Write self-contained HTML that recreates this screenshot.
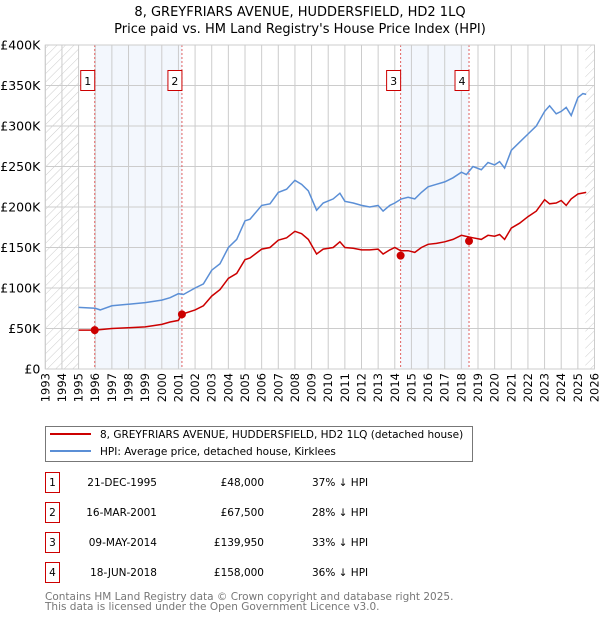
<!DOCTYPE html>
<html><head><meta charset="utf-8"><style>
body{margin:0;background:#fff;}
svg{display:block;font-family:"DejaVu Sans","Liberation Sans",sans-serif;}
</style></head><body>
<svg id="chart" width="600" height="620" viewBox="0 0 600 620" xmlns="http://www.w3.org/2000/svg">
<defs>
<pattern id="hatch" width="6" height="6" patternUnits="userSpaceOnUse" patternTransform="rotate(45)">
<line x1="0" y1="0" x2="0" y2="6" stroke="#ccc" stroke-width="1"/>
</pattern>
</defs>
<text x="300" y="16" text-anchor="middle" font-size="13">8, GREYFRIARS AVENUE, HUDDERSFIELD, HD2 1LQ</text>
<text x="300" y="33" text-anchor="middle" font-size="13">Price paid vs. HM Land Registry's House Price Index (HPI)</text>
<g id="plot"></g>
<g>
<rect x="45.5" y="426.5" width="427" height="35" fill="#fff" stroke="#777"/>
<line x1="50" y1="434" x2="91" y2="434" stroke="#cc0000" stroke-width="2"/>
<text x="100" y="438" font-size="10.5">8, GREYFRIARS AVENUE, HUDDERSFIELD, HD2 1LQ (detached house)</text>
<line x1="50" y1="451" x2="91" y2="451" stroke="#5b8fd6" stroke-width="2"/>
<text x="100" y="455" font-size="10.5">HPI: Average price, detached house, Kirklees</text>
</g>
<g id="table" font-size="10.5"></g>
<text x="45" y="600" font-size="10.5" fill="#777">Contains HM Land Registry data © Crown copyright and database right 2025.</text>
<text x="45" y="610" font-size="10.5" fill="#777">This data is licensed under the Open Government Licence v3.0.</text>
</svg>
<script>
const hpiYears=[1995,1996,1996.3,1997,1998,1999,2000,2000.5,2001,2001.3,2002,2002.5,2003,2003.5,2004,2004.5,2005,2005.3,2006,2006.5,2007,2007.5,2008,2008.4,2008.8,2009.3,2009.7,2010.3,2010.7,2011,2011.5,2012,2012.5,2013,2013.3,2013.7,2014,2014.4,2014.8,2015.2,2015.6,2016,2016.5,2017,2017.5,2018,2018.3,2018.7,2019.2,2019.6,2020,2020.3,2020.6,2021,2021.5,2022,2022.5,2023,2023.3,2023.7,2024,2024.3,2024.6,2025,2025.3,2025.5];
const hpiValues=[76,75,73,78,80,82,85,88,93,92,100,105,122,130,150,160,183,185,202,204,218,222,233,228,220,196,205,210,217,207,205,202,200,202,195,202,205,210,212,210,218,225,228,231,236,243,240,250,246,255,252,256,248,270,280,290,300,318,325,315,318,323,313,335,340,339];
const propYears=[1995,1996,1997,1998,1999,2000,2000.5,2001,2001.2,2002,2002.5,2003,2003.5,2004,2004.5,2005,2005.3,2006,2006.5,2007,2007.5,2008,2008.4,2008.8,2009.3,2009.7,2010.3,2010.7,2011,2011.5,2012,2012.5,2013,2013.3,2013.7,2014,2014.35,2014.8,2015.2,2015.6,2016,2016.5,2017,2017.5,2018,2018.46,2018.7,2019.2,2019.6,2020,2020.3,2020.6,2021,2021.5,2022,2022.5,2023,2023.3,2023.7,2024,2024.3,2024.6,2025,2025.5];
const propValues=[48,48,50,51,52,55,58,60,67.5,73,78,90,98,112,118,135,137,148,150,159,162,170,167,160,142,148,150,157,150,149,147,147,148,142,147,150,146,146,144,150,154,155,157,160,165,163,162,160,165,164,166,160,174,180,188,195,209,204,205,208,202,210,216,218];
const saleLabels=["1","2","3","4"];
const saleDates=[1995.97,2001.21,2014.35,2018.46];
const salePrices=[48,67.5,139.95,158];
const saleDateText=["21-DEC-1995","16-MAR-2001","09-MAY-2014","18-JUN-2018"];
const salePriceText=["£48,000","£67,500","£139,950","£158,000"];
const saleHpiText=["37% ↓ HPI","28% ↓ HPI","33% ↓ HPI","36% ↓ HPI"];
const yTicks=[0,50,100,150,200,250,300,350,400];
const yTickLabels=["£0","£50K","£100K","£150K","£200K","£250K","£300K","£350K","£400K"];
const xTicks=[1993,1994,1995,1996,1997,1998,1999,2000,2001,2002,2003,2004,2005,2006,2007,2008,2009,2010,2011,2012,2013,2014,2015,2016,2017,2018,2019,2020,2021,2022,2023,2024,2025,2026];

const L=45.3,R=594.5,T=45,B=369,X0=1993,X1=2026,YMAX=400;
const x=v=>L+(v-X0)/(X1-X0)*(R-L);
const y=v=>B-v/YMAX*(B-T);
const NS="http://www.w3.org/2000/svg";
function mk(tag,attrs,parent){const e=document.createElementNS(NS,tag);for(const k in attrs)e.setAttribute(k,attrs[k]);parent.appendChild(e);return e;}
const plot=document.getElementById('plot');

let e;
e=mk('rect',{x:L,y:T,width:R-L,height:B-T,fill:'#fff'},plot);


for(let i=0;i<4;i+=2){
 e=mk('rect',{x:x(saleDates[i]),y:T,width:x(saleDates[i+1])-x(saleDates[i]),height:B-T,fill:'#eef3fc',opacity:0.7},plot);
 
 
}
e=mk('rect',{x:L,y:T,width:x(1995)-L,height:B-T,fill:'url(#hatch)'},plot);


e=mk('rect',{x:x(2025.45),y:T,width:R-x(2025.45),height:B-T,fill:'url(#hatch)'},plot);


xTicks.forEach(t=>{
 e=mk('line',{x1:x(t),x2:x(t),y1:T,y2:B,stroke:'#ccc','stroke-width':1},plot);
 
 
 e=mk('text',{x:0,y:0,transform:`translate(${x(t)+4},${B+4}) rotate(-90)`,'text-anchor':'end','font-size':11.5},plot);
 e.textContent=t;
 
 
});
yTicks.forEach((t,i)=>{
 e=mk('line',{x1:L,x2:R,y1:y(t),y2:y(t),stroke:'#ccc','stroke-width':1},plot);
 
 
 e=mk('text',{x:L-5,y:y(t)+4.5,'text-anchor':'end','font-size':12.5},plot);
 e.textContent=yTickLabels[i];
 
 
});
saleDates.forEach(d=>{
 e=mk('line',{x1:x(d),x2:x(d),y1:T,y2:B,stroke:'#e06060','stroke-width':1,'stroke-dasharray':'2,2'},plot);
 
 
});
const pathOf=(xs,vs)=>xs.map((v,i)=>(i?'L':'M')+x(v).toFixed(1)+','+y(vs[i]).toFixed(1)).join('');
e=mk('path',{d:pathOf(hpiYears,hpiValues),fill:'none',stroke:'#5b8fd6','stroke-width':1.5},plot);


e=mk('path',{d:pathOf(propYears,propValues),fill:'none',stroke:'#cc0000','stroke-width':1.5},plot);


saleDates.forEach((d,i)=>{
 e=mk('circle',{cx:x(d),cy:y(salePrices[i]),r:4,fill:'#cc0000'},plot);
 
 
 const g=mk('g',{},plot);
 
 
 mk('rect',{x:x(d)-14,y:70.5,width:14,height:20,fill:'#fff',stroke:'#cc0000'},g);
 const t=mk('text',{x:x(d)-7,y:85,'text-anchor':'middle','font-size':11},g);
 t.textContent=saleLabels[i];
});
e=mk('rect',{x:L,y:T,width:R-L,height:B-T,fill:'none',stroke:'#ccc'},plot);
const tbl=document.getElementById('table');
saleLabels.forEach((s,i)=>{
 const cy=483+i*30;
 const g=mk('g',{},tbl);
 
 
 mk('rect',{x:45.5,y:cy-10.5,width:14,height:20,fill:'#fff',stroke:'#cc0000'},g);
 let t=mk('text',{x:52.5,y:cy+3,'text-anchor':'middle'},g);t.textContent=s;
 t=mk('text',{x:157,y:cy+3,'text-anchor':'end'},g);t.textContent=saleDateText[i];
 t=mk('text',{x:264,y:cy+3,'text-anchor':'end'},g);t.textContent=salePriceText[i];
 t=mk('text',{x:312,y:cy+3},g);t.textContent=saleHpiText[i];
});
</script>
</body></html>
